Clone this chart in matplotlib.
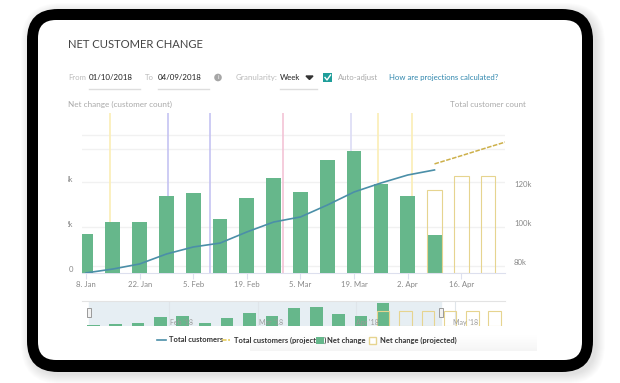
import numpy as np
import matplotlib
matplotlib.use('Agg')
import matplotlib.pyplot as plt
from matplotlib.patches import FancyBboxPatch, Rectangle, Circle

plt.rcParams['font.family'] = ['Lato', 'DejaVu Sans']

# data
weeks = list(range(14))
net_change = [1.73, 2.27, 2.27, 3.42, 3.56, 2.4, 3.33, 4.22, 3.6, 5.02, 5.42, 3.96, 3.44, 1.69]
proj_weeks = [13, 14, 15]
proj_change = [3.69, 4.31, 4.31]
total_customers = [74.4, 76.4, 79, 84.1, 87.7, 89.7, 95.4, 100.5, 103.1, 109.2, 115.9, 120.5, 124.6, 127.2]
proj_line_weeks = [13, 14, 15, 16]
proj_customers = [130.3, 134.5, 138.8, 143]
grid_values = [0.31, 2.04, 4.05, 5.51, 6.13]
event_weeks = [0.91, 3.06, 4.63, 7.33, 9.89, 10.9, 12.16]
event_colors = ['#fbeeb5', '#c5c3f2', '#c5c3f2', '#f3c3d6', '#dcdcf5', '#fbeeb5', '#fbeeb5']
tick_weeks = [0, 2, 4, 6, 8, 10, 12, 14]
tick_labels = ['8. Jan', '22. Jan', '5. Feb', '19. Feb', '5. Mar', '19. Mar', '2. Apr', '16. Apr']

nav_weeks = list(range(14))
nav_change = [0.2, 0.34, 0.44, 1.16, 1.3, 0.44, 1.12, 1.8, 1.4, 2.4, 2.57, 1.6, 1.3, 3.04]
nav_proj_weeks = [13, 14, 15, 16, 17, 18]
nav_proj = [1.95, 1.95, 1.95, 1.95, 1.95, 1.95]
nav_months = ["Feb '18", "Mar '18", "Apr '18", "May '18"]
nav_month_pos = [3.95, 7.95, 12.3, 16.7]
nav_month_lines = [3.4, 7.4, 11.8, 16.2]

W, H = 620, 383
GREEN = '#66b78b'
YELLOW = '#e6d48f'
BLUE = '#4b8fa8'
GREY = '#a9a9a9'
DARK = '#444444'


def px_axes(x0, y0, x1, y1, **kw):
    return fig.add_axes([x0 / W, 1 - y1 / H, (x1 - x0) / W, (y1 - y0) / H], **kw)


fig = plt.figure(figsize=(6.2, 3.83), dpi=100)

# device frame and page text go on a full-figure pixel axes
bg = px_axes(0, 0, W, H)
bg.set_xlim(0, W)
bg.set_ylim(H, 0)
bg.axis('off')
# soft shadow, low right of the frame
for i in range(10):
    bg.add_patch(FancyBboxPatch((27 + 3 - i, 9 + 3 - i), 566 + 2 * i, 363 + 2 * i,
                                boxstyle='round,pad=0,rounding_size=%d' % (31 + i),
                                fc='#000000', ec='none', alpha=0.012))
bg.add_patch(FancyBboxPatch((27, 9), 566, 363, boxstyle='round,pad=0,rounding_size=31', fc='black', ec='none'))
bg.add_patch(FancyBboxPatch((38, 20), 544, 340, boxstyle='round,pad=0,rounding_size=18', fc='white', ec='none'))

bg.text(68, 44, 'NET CUSTOMER CHANGE', fontsize=8.1, color=DARK, va='center')
bg.text(68, 77.5, 'From', fontsize=5.6, color='#bbbbbb', va='center')
bg.text(89, 77.5, '01/10/2018', fontsize=5.7, color='#222222', va='center')
bg.text(145, 77.5, 'To', fontsize=5.6, color='#bbbbbb', va='center')
bg.text(157.5, 77.5, '04/09/2018', fontsize=5.7, color='#222222', va='center')
bg.add_patch(Circle((218, 77.5), 3.8, fc='#a6a6a6', ec='none'))
bg.text(218, 77.5, 'i', fontsize=4.5, color='white', va='center', ha='center')
bg.text(235.5, 77.5, 'Granularity:', fontsize=5.8, color='#bbbbbb', va='center')
bg.text(280, 77.5, 'Week', fontsize=5.7, color='#222222', va='center')
bg.fill([306, 313, 309.5], [76, 76, 79.5], color='#333333')
for a, b in [(89, 140), (157.5, 209), (280, 316.5)]:
    bg.plot([a, b], [89, 89], color='#dddddd', lw=1)
bg.add_patch(Rectangle((323, 73), 9, 9, fc='#1f9e9a', ec='none'))
bg.plot([325, 327, 330.5], [77.5, 80, 75], color='white', lw=1)
bg.text(338, 77.5, 'Auto-adjust', fontsize=5.6, color=GREY, va='center')
bg.text(389, 77.5, 'How are projections calculated?', fontsize=5.6, color='#2f86ad', va='center')
bg.text(68, 104.5, 'Net change (customer count)', fontsize=5.9, color=GREY, va='center')
bg.text(526, 104.5, 'Total customer count', fontsize=5.8, color=GREY, va='center', ha='right')

# main chart
ax = px_axes(82, 113, 505, 273)
ax.patch.set_alpha(0)
ax.set_xlim(-0.15, 15.63)
ax.set_ylim(0, 7.11)
for v in grid_values:
    ax.axhline(v, color='#f1f1f1', lw=1, zorder=1)
for w, c in zip(event_weeks, event_colors):
    ax.axvline(w, color=c, lw=1.2, zorder=2)
ax.bar(weeks, net_change, width=0.55, color=GREEN, zorder=3)
ax.bar(proj_weeks, proj_change, width=0.55, fc='none', ec=YELLOW, lw=0.8, zorder=4)
for s in ['top', 'left', 'right']:
    ax.spines[s].set_visible(False)
ax.spines['bottom'].set_color('#dde0ee')
ax.set_xticks(tick_weeks)
ax.set_xticklabels(tick_labels, fontsize=5.6, color='#888888')
ax.tick_params(axis='x', length=4, width=0.8, color='#dde0ee', pad=1.5)
ax.set_yticks([0, 2, 4])
ax.set_yticklabels(['0', '2k', '4k'], fontsize=5.6, color='#888888', va='bottom')
ax.tick_params(axis='y', length=0, pad=6.5)
# the left labels are cut off by the page in the original
clip = Rectangle((68, 0), 20, H, transform=bg.transData)
for lab in ax.get_yticklabels()[1:]:
    lab.set_clip_path(clip)
    lab.set_clip_on(True)

ax2 = ax.twinx()
ax2.set_ylim(74.36, 156.4)
ax2.plot(weeks, total_customers, color=BLUE, lw=1.2, zorder=5)
ax2.plot(proj_line_weeks, proj_customers, color='#cdb04a', lw=1.1, ls=(0, (3, 1)), zorder=5)
for s in ax2.spines.values():
    s.set_visible(False)
ax2.set_yticks([80, 100, 120])
ax2.set_yticklabels(['80k', '100k', '120k'], fontsize=5.6, color='#888888')
ax2.tick_params(axis='y', length=0, pad=6.5)

# navigator
nav = px_axes(82, 301, 505, 325.5)
nav.set_xlim(-0.51, 18.46)
nav.set_ylim(0.08, 3.35)
nav.axvspan(-0.2, 15.58, color='#e6eef3', zorder=0)
for m in nav_month_lines:
    nav.axvline(m, color='#dfe5ea', lw=0.8, zorder=1)
nav.bar(nav_weeks, nav_change, width=0.56, color=GREEN, zorder=2)
nav.bar(nav_proj_weeks, nav_proj, width=0.56, fc='none', ec=YELLOW, lw=0.8, zorder=3)
for m, lab in zip(nav_month_pos, nav_months):
    nav.text(m, 0.5, lab, fontsize=5, color='#999999', ha='center', va='center', zorder=4)
for s in ['left', 'right', 'bottom']:
    nav.spines[s].set_visible(False)
nav.spines['top'].set_color('#e3e3e3')
nav.set_xticks([])
nav.set_yticks([])

# overlay for things that sit on top of the charts
top = px_axes(0, 0, W, H)
top.set_xlim(0, W)
top.set_ylim(H, 0)
top.axis('off')
for x in [89, 441]:
    top.add_patch(Rectangle((x - 2.2, 308), 4.4, 9, fc='#f2f2f2', ec='#9a9a9a', lw=0.7))

# faded band under the legend
band = np.linspace(0, 1, 20).reshape(-1, 1)
top.imshow(band, extent=(250, 537, 351, 335), cmap='Greys', vmin=0, vmax=12, aspect='auto', zorder=1)
top.set_xlim(0, W)
top.set_ylim(H, 0)

# legend is placed by hand, the items sit tight in the original
top.plot([157, 166], [340, 340], color=BLUE, lw=1.2, zorder=3)
top.text(169, 340, 'Total customers', fontsize=5.4, color='#333333', weight='bold', va='center', zorder=3)
top.plot([222, 230], [340, 340], color='#e6c94f', lw=1.1, ls=(0, (3, 1)), zorder=3)
top.text(234, 340, 'Total customers (projected)', fontsize=5.4, color='#333333', weight='bold', va='center', zorder=3)
top.add_patch(Rectangle((315.5, 336.5), 8, 7, fc=GREEN, ec='none', zorder=4))
top.text(327, 340, 'Net change', fontsize=5.4, color='#333333', weight='bold', va='center', zorder=3)
top.add_patch(Rectangle((368.5, 336.5), 7, 7, fc='white', ec=YELLOW, lw=1, zorder=3))
top.text(380, 340, 'Net change (projected)', fontsize=5.4, color='#333333', weight='bold', va='center', zorder=3)

fig.savefig('out.png', dpi=100)
